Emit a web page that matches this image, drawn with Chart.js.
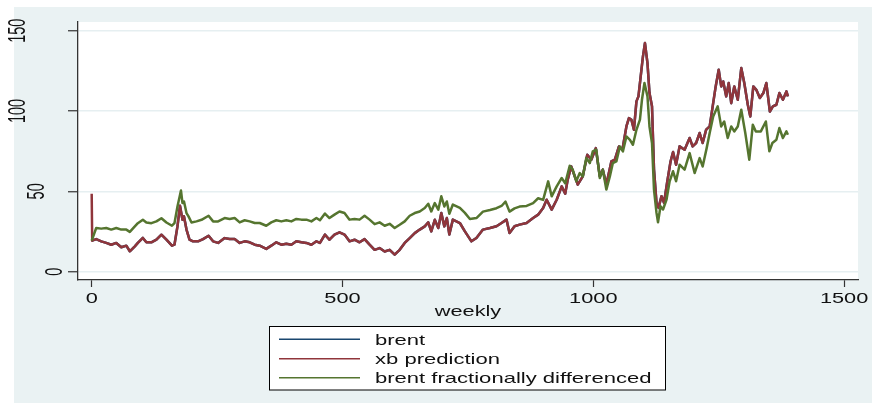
<!DOCTYPE html>
<html><head><meta charset="utf-8">
<script src="https://cdn.jsdelivr.net/npm/chart.js@4"></script>
<style>html,body{margin:0;padding:0;background:#fff;}canvas{display:block;}</style>
</head><body>
<canvas id="c" width="872" height="405"></canvas>
<script>
const seriesLabels = ['brent', 'xb prediction', 'brent fractionally differenced'];
const xTickValues = [0, 500, 1000, 1500];
const yTickValues = [0, 50, 100, 150];
const xTitle = 'weekly';

const mainWeeks = [
  0, 1, 9, 19, 29, 39, 49, 59, 69, 76,
  86, 92, 102, 109, 119, 129, 139, 149, 160, 165,
  171, 176, 181, 184, 189, 195, 202, 212, 222, 233,
  242, 252, 265, 275, 285, 295, 305, 315, 325, 335,
  348, 358, 368, 378, 388, 398, 408, 418, 428, 438,
  448, 455, 465, 474, 484, 494, 504, 514, 524, 534,
  544, 554, 564, 574, 584, 594, 604, 614, 624, 634,
  644, 654, 664, 671, 677, 684, 691, 697, 703, 708,
  713, 720, 734, 744, 757, 767, 780, 794, 807, 817,
  827, 833, 843, 853, 867, 880, 890, 900, 907, 917,
  927, 937, 944, 949, 956, 963, 969, 979, 988, 996,
  1005, 1013, 1019, 1026, 1036, 1043, 1051, 1058, 1066, 1071,
  1076, 1081, 1086, 1090, 1096, 1099, 1103, 1108, 1112, 1117,
  1121, 1126, 1130, 1136, 1141, 1147, 1154, 1159, 1165, 1172,
  1182, 1192, 1198, 1205, 1212, 1218, 1225, 1232, 1238, 1244,
  1250, 1255, 1259, 1265, 1270, 1275, 1281, 1288, 1295, 1301,
  1308, 1313, 1319, 1325, 1332, 1339, 1345, 1352, 1358, 1365,
  1371, 1378, 1385, 1388
];

const brentValues = [
  19.3, 19.3, 20.3, 18.9, 17.9, 16.8, 17.9, 15.2, 16.2, 12.7,
  15.8, 17.9, 21.0, 18.3, 18.3, 19.9, 23.0, 19.9, 16.2, 16.8,
  28.2, 41.0, 32.3, 34.4, 26.2, 19.9, 18.9, 18.9, 20.3, 22.4,
  18.9, 17.9, 20.9, 20.3, 20.3, 17.9, 18.9, 18.3, 16.8, 16.2,
  14.2, 16.2, 18.3, 16.8, 17.4, 16.8, 18.9, 18.3, 17.9, 16.8,
  18.9, 17.9, 23.1, 19.9, 23.1, 24.5, 23.1, 18.9, 19.9, 18.3,
  20.3, 16.8, 13.6, 14.7, 12.6, 13.6, 10.6, 13.6, 17.9, 20.9,
  24.0, 26.2, 28.2, 30.7, 25.1, 32.3, 27.2, 36.5, 28.2, 33.4,
  23.1, 32.4, 30.3, 25.1, 18.9, 21.0, 26.2, 27.2, 28.3, 30.3,
  32.4, 24.1, 28.3, 29.3, 30.3, 33.4, 35.5, 39.6, 44.8, 38.6,
  44.8, 53.1, 48.5, 57.3, 65.5, 59.3, 54.2, 59.3, 72.8, 69.7,
  76.9, 59.3, 63.5, 54.2, 68.6, 69.7, 77.9, 75.9, 90.4, 95.6,
  94.6, 88.3, 106.0, 109.1, 125.7, 134.0, 142.3, 129.8, 111.2, 102.9,
  63.5, 42.8, 39.7, 47.0, 42.8, 55.2, 68.6, 74.5, 66.6, 78.0,
  75.9, 83.2, 78.0, 80.1, 86.3, 80.1, 88.4, 90.4, 102.9, 115.3,
  125.7, 115.3, 118.4, 109.1, 117.4, 104.9, 115.3, 107.0, 126.7, 117.4,
  103.9, 96.6, 115.3, 113.2, 108.1, 111.2, 117.4, 99.7, 102.9, 103.9,
  111.2, 107.0, 112.2, 109.1
];

const xbValues = [
  48.5, 19.3, 20.3, 18.9, 17.9, 16.8, 17.9, 15.2, 16.2, 12.7,
  15.8, 17.9, 21.0, 18.3, 18.3, 19.9, 23.0, 19.9, 16.2, 16.8,
  28.2, 41.0, 32.3, 34.4, 26.2, 19.9, 18.9, 18.9, 20.3, 22.4,
  18.9, 17.9, 20.9, 20.3, 20.3, 17.9, 18.9, 18.3, 16.8, 16.2,
  14.2, 16.2, 18.3, 16.8, 17.4, 16.8, 18.9, 18.3, 17.9, 16.8,
  18.9, 17.9, 23.1, 19.9, 23.1, 24.5, 23.1, 18.9, 19.9, 18.3,
  20.3, 16.8, 13.6, 14.7, 12.6, 13.6, 10.6, 13.6, 17.9, 20.9,
  24.0, 26.2, 28.2, 30.7, 25.1, 32.3, 27.2, 36.5, 28.2, 33.4,
  23.1, 32.4, 30.3, 25.1, 18.9, 21.0, 26.2, 27.2, 28.3, 30.3,
  32.4, 24.1, 28.3, 29.3, 30.3, 33.4, 35.5, 39.6, 44.8, 38.6,
  44.8, 53.1, 48.5, 57.3, 65.5, 59.3, 54.2, 59.3, 72.8, 69.7,
  76.9, 59.3, 63.5, 54.2, 68.6, 69.7, 77.9, 75.9, 90.4, 95.6,
  94.6, 88.3, 106.0, 109.1, 125.7, 134.0, 142.3, 129.8, 111.2, 102.9,
  63.5, 42.8, 39.7, 47.0, 42.8, 55.2, 68.6, 74.5, 66.6, 78.0,
  75.9, 83.2, 78.0, 80.1, 86.3, 80.1, 88.4, 90.4, 102.9, 115.3,
  125.7, 115.3, 118.4, 109.1, 117.4, 104.9, 115.3, 107.0, 126.7, 117.4,
  103.9, 96.6, 115.3, 113.2, 108.1, 111.2, 117.4, 99.7, 102.9, 103.9,
  111.2, 107.0, 112.2, 109.1
];

const fracWeeks = [
  0, 9, 19, 29, 39, 49, 59, 69, 76, 86,
  92, 102, 109, 119, 129, 139, 149, 160, 165, 171,
  178, 181, 184, 189, 193, 199, 209, 219, 233, 242,
  252, 265, 275, 285, 295, 305, 315, 325, 335, 348,
  358, 368, 378, 388, 398, 408, 418, 428, 438, 448,
  455, 465, 474, 484, 494, 504, 514, 524, 534, 544,
  554, 564, 574, 584, 594, 604, 614, 624, 634, 644,
  654, 664, 671, 677, 684, 691, 697, 703, 708, 713,
  720, 734, 744, 754, 767, 780, 794, 807, 817, 825,
  833, 843, 853, 867, 880, 890, 900, 910, 917, 927,
  937, 944, 953, 959, 966, 973, 979, 986, 993, 999,
  1006, 1013, 1019, 1026, 1033, 1039, 1046, 1053, 1059, 1066,
  1073, 1079, 1086, 1093, 1097, 1102, 1108, 1112, 1117, 1121,
  1126, 1129, 1134, 1139, 1146, 1152, 1159, 1165, 1172, 1182,
  1192, 1202, 1212, 1218, 1226, 1232, 1239, 1248, 1255, 1261,
  1268, 1275, 1281, 1288, 1295, 1303, 1311, 1318, 1324, 1334,
  1344, 1351, 1357, 1365, 1371, 1378, 1385, 1388
];

const fracValues = [
  19.3, 27.2, 26.8, 27.2, 26.2, 27.2, 26.2, 26.2, 24.8, 28.2,
  30.2, 32.3, 30.6, 30.2, 31.3, 33.3, 30.6, 28.6, 30.2, 40.6,
  50.5, 42.7, 43.7, 36.5, 34.4, 30.6, 31.3, 32.3, 34.8, 31.3,
  31.3, 33.4, 32.8, 33.4, 30.7, 32.0, 31.3, 30.3, 30.3, 28.6,
  30.7, 32.0, 31.3, 32.0, 31.3, 32.8, 32.4, 32.4, 31.3, 33.4,
  32.0, 36.2, 33.4, 35.5, 37.5, 36.5, 32.4, 32.8, 32.4, 34.8,
  32.4, 29.6, 30.7, 28.6, 29.8, 27.2, 29.2, 31.3, 34.8, 36.5,
  37.5, 39.6, 42.3, 37.5, 42.7, 38.6, 46.9, 40.6, 43.7, 36.0,
  41.8, 39.7, 36.6, 32.8, 33.4, 37.4, 38.4, 39.5, 40.9, 43.6,
  37.4, 39.4, 40.5, 40.9, 42.7, 45.7, 44.7, 56.2, 46.9, 53.1,
  58.3, 55.0, 65.9, 63.5, 56.3, 61.4, 59.3, 70.7, 67.6, 74.9,
  75.9, 58.3, 63.5, 51.1, 59.3, 67.6, 68.6, 77.9, 74.9, 84.2,
  82.1, 79.0, 88.3, 94.6, 107.0, 117.4, 109.1, 90.4, 80.1, 51.1,
  36.6, 30.8, 40.7, 38.7, 44.9, 56.0, 62.5, 56.3, 66.6, 63.5,
  73.8, 61.4, 70.7, 65.5, 76.9, 86.3, 96.6, 102.9, 90.4, 93.5,
  83.2, 90.4, 87.3, 90.4, 100.8, 86.3, 69.7, 91.5, 87.3, 87.3,
  93.5, 74.9, 80.1, 82.1, 89.4, 83.2, 87.3, 85.2
];

const COLORS = ['#1A476F', '#90353B', '#55752F'];
const BG = '#EAF2F3';
const TEXT = '#111111';
const FONT = '14.5px "Liberation Sans", Arial, sans-serif';

function pts(xs, ys) { return xs.map((x, i) => ({ x: x, y: ys[i] })); }

function stretchText(ctx, text, x, y, sx, align, rotate) {
  ctx.save();
  ctx.translate(x, y);
  ctx.scale(sx, 1);
  if (rotate) ctx.rotate(-Math.PI / 2);
  ctx.textAlign = align;
  ctx.textBaseline = 'alphabetic';
  ctx.fillText(text, 0, 0);
  ctx.restore();
}

const chromePlugin = {
  id: 'chrome',
  beforeDraw(chart) {
    const ctx = chart.ctx, a = chart.chartArea;
    ctx.save();
    ctx.fillStyle = '#ffffff';
    ctx.fillRect(0, 0, chart.width, chart.height);
    ctx.fillStyle = BG;
    ctx.fillRect(14, 7, chart.width - 14, chart.height - 9);
    ctx.fillStyle = '#ffffff';
    ctx.fillRect(a.left, a.top, a.right - a.left, a.bottom - a.top);
    ctx.restore();
  },
  afterDraw(chart) {
    const ctx = chart.ctx, a = chart.chartArea;
    const xs = chart.scales.x, ys = chart.scales.y;
    ctx.save();
    ctx.fillStyle = TEXT;
    ctx.font = FONT;
    yTickValues.forEach(v => {
      const label = String(v);
      const xr = 80.5 - 18.5 * label.length;
      stretchText(ctx, label, xr, ys.getPixelForValue(v), 1.6, 'center', true);
    });
    xTickValues.forEach(v => {
      stretchText(ctx, String(v), xs.getPixelForValue(v), 303, 1.5, 'center', false);
    });
    stretchText(ctx, xTitle, (a.left + a.right) / 2, 316, 1.5, 'center', false);
    const bx = 269.5, by = 326.5, bw = 396, bh = 63.5;
    ctx.fillStyle = '#ffffff';
    ctx.fillRect(bx, by, bw, bh);
    ctx.strokeStyle = '#000000';
    ctx.lineWidth = 1;
    ctx.strokeRect(bx, by, bw, bh);
    const rowsLine = [339.3, 358.7, 377.7];
    const rowsText = [345, 364.3, 383.3];
    seriesLabels.forEach((lab, i) => {
      ctx.strokeStyle = COLORS[i];
      ctx.lineWidth = 1.4;
      ctx.beginPath();
      ctx.moveTo(279, rowsLine[i]);
      ctx.lineTo(360, rowsLine[i]);
      ctx.stroke();
      ctx.fillStyle = TEXT;
      stretchText(ctx, lab, 375, rowsText[i], 1.52, 'left', false);
    });
    ctx.restore();
  }
};

const seriesData = [
  pts(mainWeeks, brentValues),
  pts(mainWeeks, xbValues),
  pts(fracWeeks, fracValues)
];

new Chart(document.getElementById('c'), {
  type: 'line',
  data: {
    datasets: seriesLabels.map((lab, i) => ({
      label: lab,
      data: seriesData[i],
      borderColor: COLORS[i],
      backgroundColor: COLORS[i],
      borderWidth: 2.5,
      pointRadius: 0,
      tension: 0,
      fill: false,
      borderJoinStyle: 'round',
      order: 2 - i
    }))
  },
  options: {
    responsive: false,
    animation: false,
    devicePixelRatio: 1,
    layout: { padding: { left: 0, right: 14, top: 22, bottom: 0 } },
    plugins: { legend: { display: false }, tooltip: { enabled: false } },
    scales: {
      x: {
        type: 'linear',
        min: -27.3, max: 1527.7,
        afterBuildTicks: s => { s.ticks = xTickValues.map(v => ({ value: v })); },
        afterFit: s => { s.height = 125; },
        ticks: { display: false },
        grid: { display: true, drawOnChartArea: false, drawTicks: true, tickLength: 7, tickColor: '#333333', tickWidth: 1.2 },
        border: { display: true, color: '#333333', width: 1.3 }
      },
      y: {
        type: 'linear',
        min: -5.17, max: 155.4,
        afterBuildTicks: s => { s.ticks = yTickValues.map(v => ({ value: v })); },
        afterFit: s => { s.width = 78; },
        ticks: { display: false },
        grid: { display: true, drawOnChartArea: true, color: '#E6EFF1', lineWidth: 1.5, drawTicks: true, tickLength: 10, tickColor: '#333333', tickWidth: 1.2 },
        border: { display: true, color: '#333333', width: 1.3 }
      }
    }
  },
  plugins: [chromePlugin]
});
</script>
</body></html>
